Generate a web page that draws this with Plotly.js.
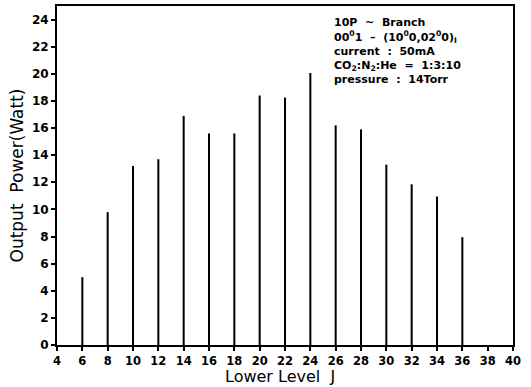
<!DOCTYPE html>
<html><head><meta charset="utf-8">
<script src="https://cdn.plot.ly/plotly-3.0.1.min.js"></script>
<style>html,body{margin:0;padding:0;background:#fff}</style>
</head><body><div id="chart" style="width:531px;height:387px"></div>
<script>
var levelJ = [6, 8, 10, 12, 14, 16, 18, 20, 22, 24, 26, 28, 30, 32, 34, 36];
var outputPower = [5.0, 9.8, 13.2, 13.7, 16.9, 15.6, 15.6, 18.4, 18.25, 20.05, 16.2, 15.9, 13.3, 11.85, 10.95, 7.95];
var xTicks = [4, 6, 8, 10, 12, 14, 16, 18, 20, 22, 24, 26, 28, 30, 32, 34, 36, 38, 40];
var yTicks = [0, 2, 4, 6, 8, 10, 12, 14, 16, 18, 20, 22, 24];
var xTitle = "Lower\u00a0Level\u00a0\u00a0J";
var yTitle = "Output\u00a0\u00a0Power(Watt)";
var noteLines = [
  "10P\u00a0\u00a0~\u00a0\u00a0Branch",
  "00<sup>0</sup>1\u00a0\u00a0\u2013\u00a0\u00a0(10<sup>0</sup>0,02<sup>0</sup>0)<sub>I</sub>",
  "current\u00a0\u00a0:\u00a0\u00a050mA",
  "CO<sub>2</sub>:N<sub>2</sub>:He\u00a0\u00a0=\u00a0\u00a01:3:10",
  "pressure\u00a0\u00a0:\u00a0\u00a014Torr"
];
var noteY = [23.75, 22.7, 21.65, 20.6, 19.55];
var fontFam = "DejaVu Sans, Verdana, sans-serif";
var trace = {
  type: "bar", x: levelJ, y: outputPower, width: 0.16,
  marker: {color: "#000", line: {width: 0}}, hoverinfo: "x+y"
};
var annotations = noteLines.map(function (t, i) {
  return {
    xref: "x", yref: "y", x: 25.7, y: noteY[i],
    xanchor: "left", yanchor: "middle", align: "left", showarrow: false,
    text: t, font: {size: 11, family: fontFam, weight: "bold", color: "#000"}
  };
});
annotations.push({
  xref: "paper", yref: "paper", x: 0.49, y: -42 / 339,
  xanchor: "center", yanchor: "bottom", showarrow: false, borderpad: 0,
  text: xTitle, font: {size: 16, family: fontFam, color: "#000"}
});
var layout = {
  width: 531, height: 387,
  margin: {l: 57, r: 18, t: 6, b: 42},
  paper_bgcolor: "#fff", plot_bgcolor: "#fff",
  showlegend: false,
  font: {family: fontFam, color: "#000"},
  xaxis: {
    range: [4, 40], tickvals: xTicks, ticktext: xTicks.map(String),
    showline: true, linecolor: "#000", linewidth: 2, mirror: true,
    ticks: "outside", ticklen: 4, tickwidth: 2, tickcolor: "#000",
    showgrid: false, zeroline: false,
    tickfont: {size: 11.5, family: fontFam, weight: "bold"}
  },
  yaxis: {
    range: [0, 25], tickvals: yTicks, ticktext: yTicks.map(String),
    showline: true, linecolor: "#000", linewidth: 2, mirror: true,
    ticks: "outside", ticklen: 4, tickwidth: 2, tickcolor: "#000",
    showgrid: false, zeroline: false,
    tickfont: {size: 12, family: fontFam, weight: "bold"},
    title: {text: yTitle, font: {size: 17, family: fontFam}, standoff: 4}
  },
  annotations: annotations
};
Plotly.newPlot("chart", [trace], layout, {staticPlot: true, displayModeBar: false});
</script></body></html>
